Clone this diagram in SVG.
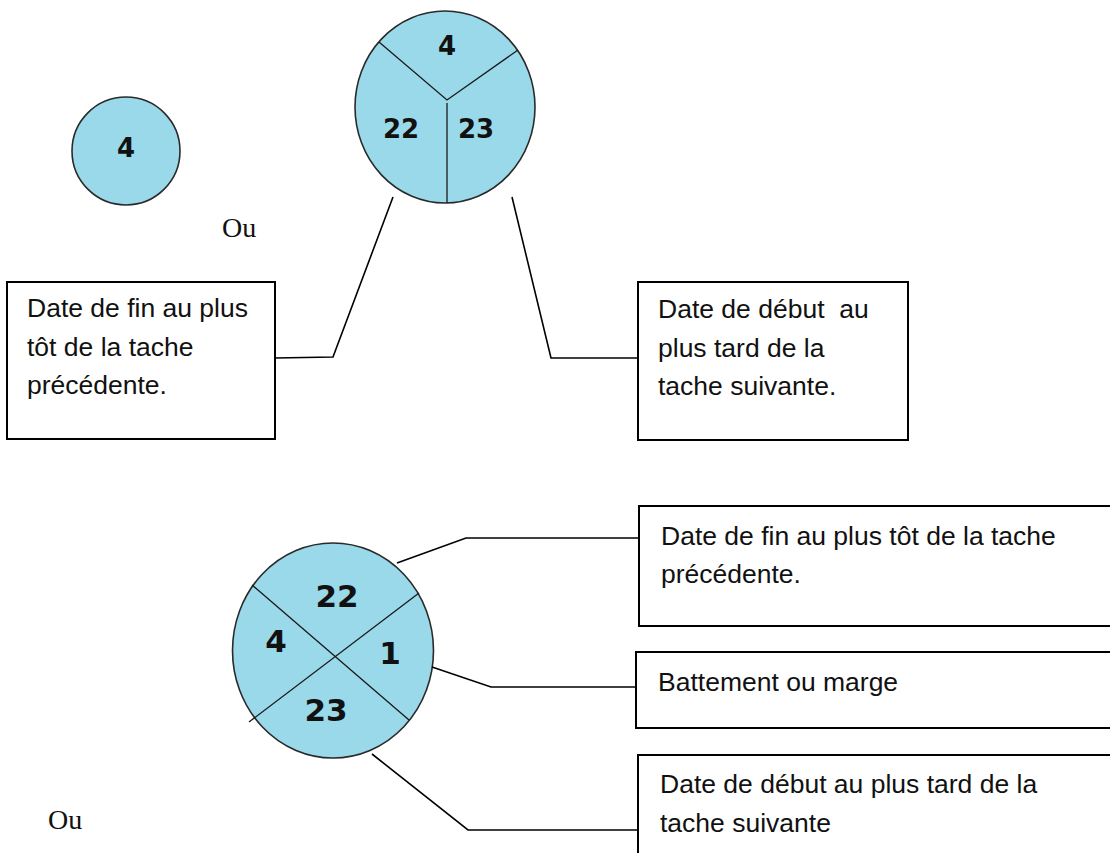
<svg xmlns="http://www.w3.org/2000/svg" width="1110" height="853" viewBox="0 0 1110 853">
<style>
.c{fill:#99d9ea;stroke:#2a2a2a;stroke-width:1.6}
.d{fill:none;stroke:#1a1a1a;stroke-width:1.3}
.n{font-family:"DejaVu Sans",sans-serif;font-weight:bold;fill:#111;text-anchor:middle}
.b{fill:#fff;stroke:#000;stroke-width:2}
.t{font-family:"Liberation Sans",Arial,sans-serif;font-size:26.5px;fill:#111}
.o{font-family:"Liberation Serif","Times New Roman",serif;font-size:28px;fill:#111}
.k{fill:none;stroke:#000;stroke-width:1.6}
</style>
<rect width="1110" height="853" fill="#fff"/>
<g id="node-small">
<circle class="c" cx="126" cy="151" r="54"/>
<text class="n" x="126" y="157" font-size="26">4</text>
</g>
<g id="node-three">
<ellipse class="c" cx="445" cy="107" rx="90" ry="96"/>
<path class="d" d="M379 42 L447 100 L518 50 M447 103 L447 203"/>
<text class="n" x="447" y="55" font-size="26">4</text>
<text class="n" x="401" y="138" font-size="26">22</text>
<text class="n" x="476" y="138" font-size="26">23</text>
</g>
<g id="node-four">
<ellipse class="c" cx="333" cy="650.5" rx="100.5" ry="107.5"/>
<path class="d" d="M252 585 L409 720 M419 593 L249 722"/>
<text class="n" x="337" y="607" font-size="31">22</text>
<text class="n" x="276" y="652" font-size="31">4</text>
<text class="n" x="390" y="664" font-size="31">1</text>
<text class="n" x="326" y="721" font-size="31">23</text>
</g>
<text class="o" x="222" y="237">Ou</text>
<text class="o" x="48" y="829">Ou</text>
<g id="box-tl">
<rect class="b" x="7" y="282" width="268" height="157"/>
<text class="t" x="27" y="317">Date de fin au plus</text>
<text class="t" x="27" y="356">tôt de la tache</text>
<text class="t" x="27" y="394">précédente.</text>
</g>
<g id="box-tr">
<rect class="b" x="638" y="282" width="270" height="158"/>
<text class="t" x="658" y="318" xml:space="preserve">Date de début  au</text>
<text class="t" x="658" y="357">plus tard de la</text>
<text class="t" x="658" y="395">tache suivante.</text>
</g>
<g id="box-b1">
<rect class="b" x="639" y="506" width="500" height="120"/>
<text class="t" x="661" y="545">Date de fin au plus tôt de la tache</text>
<text class="t" x="661" y="583">précédente.</text>
</g>
<g id="box-b2">
<rect class="b" x="636" y="652" width="500" height="76"/>
<text class="t" x="658" y="691">Battement ou marge</text>
</g>
<g id="box-b3">
<rect class="b" x="638" y="755" width="500" height="120"/>
<text class="t" x="660" y="793">Date de début au plus tard de la</text>
<text class="t" x="660" y="832">tache suivante</text>
</g>
<g id="connectors">
<polyline class="k" points="393,197 333,357 275,358"/>
<polyline class="k" points="512,197 551,358 638,358"/>
<polyline class="k" points="397,563 466,538 639,538"/>
<polyline class="k" points="432,667 491,687 636,687"/>
<polyline class="k" points="372,754 468,830 638,830"/>
</g>
</svg>
